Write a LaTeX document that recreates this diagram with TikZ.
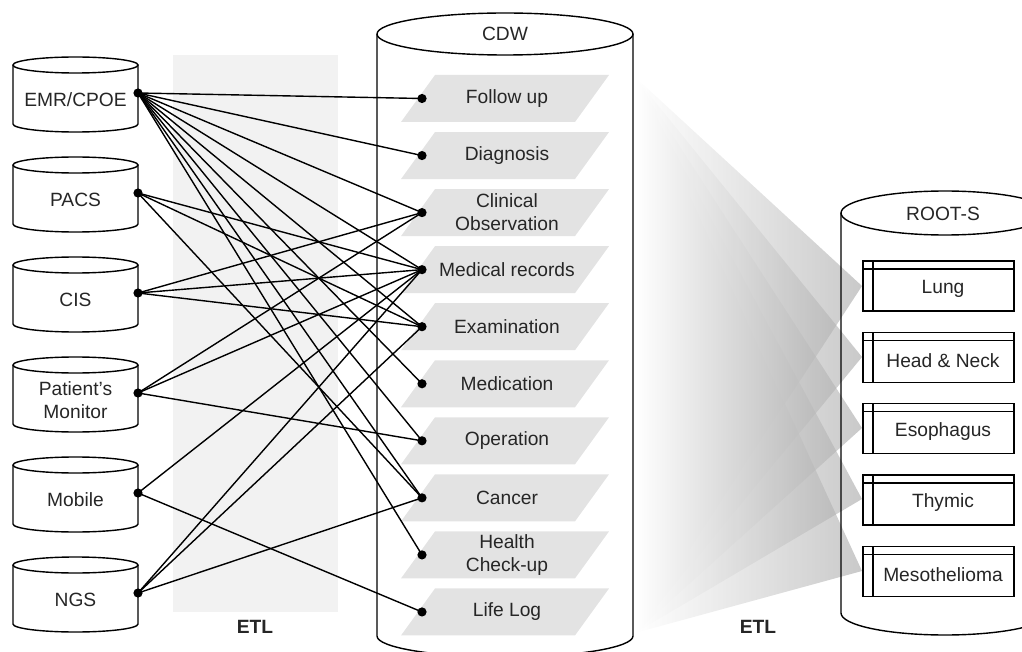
\documentclass[tikz,border=0pt]{standalone}
\usepackage{fontspec}
\setmainfont{Liberation Sans}
\usetikzlibrary{calc,positioning}

\begin{document}
\begin{tikzpicture}[x=0.5pt,y=-0.5pt,line width=0.7pt,
  lbl/.style={font=\fontsize{9.6}{11.5}\selectfont,text=black!85,align=center,inner sep=0pt},
  etl/.style={font=\fontsize{9.6}{11.5}\selectfont\bfseries,text=black!85,inner sep=0pt},
  dot/.style={circle,fill=black,inner sep=0pt,minimum size=4.6pt},
  pgram/.style={fill=black!11},
  fan/.style={left color=white,right color=black!35,fill opacity=0.6},
  tblbox/.style={draw,fill=white}]
\useasboundingbox (0,0) rectangle (1022,652);
\clip (0,0) rectangle (1022,652);
% ETL band
\fill[black!5] (173,55) rectangle (338,612);
\node[etl] (etlL) at (255,627) {ETL};
% sources
\foreach \nm/\t/\txt in {emr/57/{EMR/CPOE},pacs/157/PACS,cis/257/CIS,pm/357/{Patient’s\\Monitor},mob/457/Mobile,ngs/557/NGS}{
\draw (13,\t+8) -- (13,\t+67) arc[start angle=180,end angle=0,x radius=62.5,y radius=8] -- (138,\t+8);
\draw (75.5,\t+8) ellipse [x radius=62.5,y radius=8];
\node[lbl] (\nm) at (75.5,\t+43) {\txt};
\node[dot] (\nm-o) at (138,\t+36) {};
}
% CDW
\draw (377,34) -- (377,636) arc[start angle=180,end angle=0,x radius=128,y radius=21] -- (633,34);
\draw (505,34) ellipse [x radius=128,y radius=21];
\node[lbl] (cdw) at (505,34) {CDW};
\foreach \txt [count=\i] in {Follow up,Diagnosis,{Clinical\\Observation},Medical records,Examination,Medication,Operation,Cancer,{Health\\Check-up},Life Log}{
\pgfmathsetmacro\yc{98.5+57.05*(\i-1)}
\fill[pgram] (401,\yc+23.5) -- (435,\yc-23.5) -- (609,\yc-23.5) -- (575,\yc+23.5) -- cycle;
\node[lbl] (c\i) at (507,\yc) {\txt};
\node[dot] (t\i) at (422,\yc) {};
}
% connections
\foreach \s/\tl in {emr/{1,2,3,4,5,6,7,8,9},pacs/{4,5,8},cis/{3,4,5},pm/{3,4,7},mob/{4,10},ngs/{4,5,8}}
  \foreach \k in \tl
    \draw (\s-o.center) -- (t\k.center);
% fans
\foreach \yc in {286,357,428,499,571}
  \shade[fan] (635,77) -- (862,\yc) -- (635,633) -- cycle;
% ROOT-S
\draw (841,213) -- (841,613) arc[start angle=180,end angle=0,x radius=104,y radius=22] -- (1049,213);
\draw (945,213) ellipse [x radius=104,y radius=22];
\node[lbl] (roots) at (943,214) {ROOT-S};
\foreach \nm/\txt [count=\i] in {lung/Lung,hn/{Head \& Neck},eso/Esophagus,thy/Thymic,meso/Mesothelioma}{
\pgfmathsetmacro\yt{261+71.3*(\i-1)}
\draw[tblbox] (863,\yt) rectangle (1014,\yt+50);
\draw (863,\yt+8) -- (1014,\yt+8);
\draw (873,\yt) -- (873,\yt+50);
\node[lbl] (\nm) at (943,\yt+28) {\txt};
}
\node[etl] (etlR) at (758,627) {ETL};
\end{tikzpicture}
\end{document}
